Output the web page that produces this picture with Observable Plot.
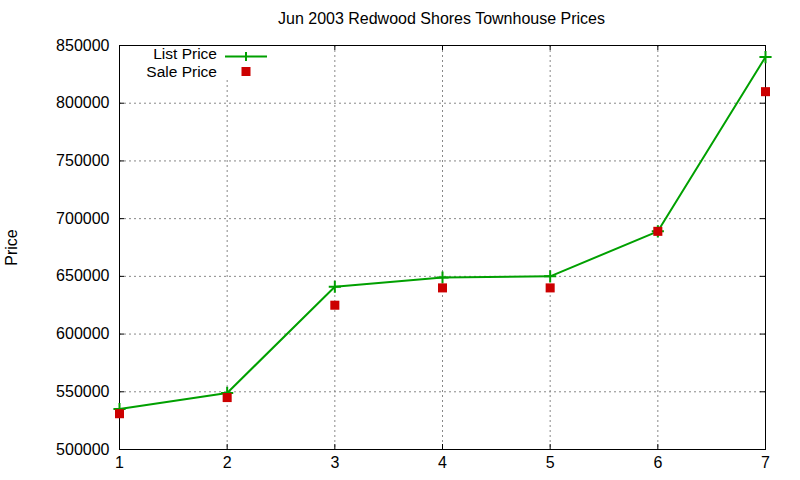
<!DOCTYPE html>
<html>
<head>
<meta charset="utf-8">
<script src="https://cdn.jsdelivr.net/npm/d3@7"></script>
<script src="https://cdn.jsdelivr.net/npm/@observablehq/plot@0.6"></script>
<style>
  body { margin: 0; background: #fff; font-family: "Liberation Sans", Arial, sans-serif; }
  #wrap { position: relative; width: 800px; height: 480px; }
  #title { height: 30px; box-sizing: border-box; padding-top: 11px; padding-left: 83px; text-align: center; font-size: 16px; line-height: 16px; color: #000; }
  #legend { position: absolute; left: 121px; top: 46px; width: 150px; height: 34px; background: #fff; font-size: 15.5px; }
  #legend div { position: absolute; right: 54px; white-space: nowrap; line-height: 14px; height: 14px; }
</style>
</head>
<body>
<div id="wrap">
  <div id="title"></div>
  <div id="chart"></div>
  <div id="legend"></div>
</div>
<script>
const titleText = "Jun 2003 Redwood Shores Townhouse Prices";
const yLabel = "Price";
const seriesNames = ["List Price", "Sale Price"];
const xValues = [1, 2, 3, 4, 5, 6, 7];
const listPrice = [535000, 549000, 641000, 649000, 650000, 689000, 840000];
const salePrice = [531000, 545000, 625000, 640000, 640000, 689000, 810000];
const xTicks = [1, 2, 3, 4, 5, 6, 7];
const yTicks = [500000, 550000, 600000, 650000, 700000, 750000, 800000, 850000];

const green = "#00a000";
const red = "#cc0000";

document.getElementById("title").textContent = titleText;

const listData = xValues.map((x, i) => ({x, y: listPrice[i]}));
const saleData = xValues.map((x, i) => ({x, y: salePrice[i]}));

const W = 800, H = 450;
const mL = 119, mR = 35, mT = 15, mB = 31;
const pw = W - mL - mR, ph = H - mT - mB;
const tl = 5;

const chart = Plot.plot({
  width: W,
  height: H,
  marginLeft: mL,
  marginRight: mR,
  marginTop: mT,
  marginBottom: mB,
  style: { fontFamily: "Liberation Sans, Arial, sans-serif", fontSize: "16px", color: "#000", background: "#fff" },
  x: { type: "linear", domain: [1, 7] },
  y: { type: "linear", domain: [500000, 850000] },
  marks: [
    Plot.gridX(xTicks, { stroke: "#888", strokeOpacity: 1, strokeDasharray: "2,3", strokeWidth: 1 }),
    Plot.gridY(yTicks, { stroke: "#888", strokeOpacity: 1, strokeDasharray: "2,3", strokeWidth: 1 }),
    // inward ticks (mirrored)
    Plot.ruleY(yTicks, { y: d => d, stroke: "#000", insetRight: pw - tl }),
    Plot.ruleY(yTicks, { y: d => d, stroke: "#000", insetLeft: pw - tl }),
    Plot.ruleX(xTicks, { x: d => d, stroke: "#000", insetTop: ph - tl }),
    Plot.ruleX(xTicks, { x: d => d, stroke: "#000", insetBottom: ph - tl }),
    Plot.axisX(xTicks, { tickSize: 0, tickPadding: 7, label: null, fontSize: 16, tickFormat: d3.format("d") }),
    Plot.axisY(yTicks, { tickSize: 0, tickPadding: 10, fontSize: 16, tickFormat: d3.format("d"),
      label: yLabel, labelAnchor: "center", labelArrow: "none", labelOffset: 114 }),
    Plot.frame({ stroke: "#000", strokeWidth: 1 }),
    Plot.line(listData, { x: "x", y: "y", stroke: green, strokeWidth: 2 }),
    Plot.dot(listData, { x: "x", y: "y", symbol: "plus", stroke: green, strokeWidth: 2, r: 4 }),
    Plot.dot(saleData, { x: "x", y: "y", symbol: "square", fill: red, stroke: "none", r: 5.1 })
  ]
});
document.getElementById("chart").appendChild(chart);

// legend
const legend = document.getElementById("legend");
legend.innerHTML = `
  <div style="top:1px">${seriesNames[0]}</div>
  <div style="top:19px">${seriesNames[1]}</div>
  <svg width="150" height="34" style="position:absolute;left:0;top:0">
    <line x1="104" x2="146" y1="10.5" y2="10.5" stroke="${green}" stroke-width="2"/>
    <line x1="125" x2="125" y1="6" y2="15" stroke="${green}" stroke-width="2"/>
    <rect x="120.5" y="21" width="9" height="9" fill="${red}"/>
  </svg>`;
</script>
</body>
</html>
